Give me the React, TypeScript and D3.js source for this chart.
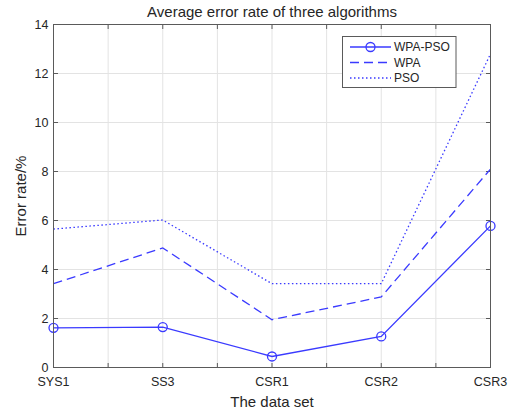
import React from "react";
import * as d3 from "d3";

const categories = ["SYS1", "SS3", "CSR1", "CSR2", "CSR3"];
const wpaPso = [1.62, 1.65, 0.45, 1.27, 5.78];
const wpa = [3.42, 4.88, 1.95, 2.88, 8.1];
const pso = [5.65, 6.02, 3.42, 3.42, 12.8];
const yTicks = [0, 2, 4, 6, 8, 10, 12, 14];
const xGrid = [0, 0.5, 1, 1.5, 2, 2.5, 3, 3.5, 4];
const seriesNames = ["WPA-PSO", "WPA", "PSO"];

const W = 515, H = 413;
const L = 53.5, R = 490.5, T = 24.5, B = 367.5;
const BLUE = "#3a3aff";
const AX = "#5a5a5a";
const TXT = "#262626";
const FONT = "'Liberation Sans', Arial, Helvetica, sans-serif";

export default function App() {
  const x = d3.scaleLinear().domain([0, categories.length - 1]).range([L, R]);
  const y = d3.scaleLinear().domain([0, 14]).range([B, T]);
  const line = d3.line<number>().x((_, i) => x(i)).y((d) => y(d));
  const dashes = [null, "9,5", "1.5,2.5"];
  const series = [wpaPso, wpa, pso];

  const lgX = 342.5, lgY = 36.5, lgW = 113.5, lgH = 51;
  const rowY = [47, 62.5, 78];

  return (
    <svg width={W} height={H} style={{ position: "absolute", left: 0, top: 0, background: "#fff" }} fontFamily={FONT}>
      <rect x={0} y={0} width={W} height={H} fill="#fff" />
      {/* grid */}
      {xGrid.map((g) => (
        <line key={"gx" + g} x1={x(g)} x2={x(g)} y1={T} y2={B} stroke="#e3e3e3" strokeWidth={1} />
      ))}
      {yTicks.map((t) => (
        <line key={"gy" + t} x1={L} x2={R} y1={y(t)} y2={y(t)} stroke="#e3e3e3" strokeWidth={1} />
      ))}
      {/* ticks */}
      {xGrid.map((g) => (
        <g key={"tx" + g}>
          <line x1={x(g)} x2={x(g)} y1={B} y2={B - 4.5} stroke={AX} />
          <line x1={x(g)} x2={x(g)} y1={T} y2={T + 4.5} stroke={AX} />
        </g>
      ))}
      {yTicks.map((t) => (
        <g key={"ty" + t}>
          <line x1={L} x2={L + 4.5} y1={y(t)} y2={y(t)} stroke={AX} />
          <line x1={R} x2={R - 4.5} y1={y(t)} y2={y(t)} stroke={AX} />
        </g>
      ))}
      {/* series */}
      {series.map((s, k) => (
        <path key={"s" + k} d={line(s) || ""} fill="none" stroke={BLUE} strokeWidth={1.3}
          strokeDasharray={dashes[k] || undefined} />
      ))}
      {wpaPso.map((v, i) => (
        <circle key={"m" + i} cx={x(i)} cy={y(v)} r={4.5} fill="none" stroke={BLUE} strokeWidth={1.3} />
      ))}
      {/* box */}
      <rect x={L} y={T} width={R - L} height={B - T} fill="none" stroke={AX} strokeWidth={1} />
      {/* tick labels */}
      {yTicks.map((t) => (
        <text key={"yl" + t} x={L - 5} y={y(t)} dy="0.35em" textAnchor="end" fontSize={12.5} fill={TXT}>{t}</text>
      ))}
      {categories.map((c, i) => (
        <text key={"xl" + c} x={x(i)} y={B + 14.5} dy="0.35em" textAnchor="middle" fontSize={12.5} fill={TXT}>{c}</text>
      ))}
      {/* labels */}
      <text x={(L + R) / 2} y={B + 34} dy="0.35em" textAnchor="middle" fontSize={15} fill={TXT}>The data set</text>
      <text transform={`translate(21,${(T + B) / 2}) rotate(-90)`} dy="0.35em" textAnchor="middle" fontSize={15} fill={TXT}>Error rate/%</text>
      <text x={(L + R) / 2} y={12} dy="0.35em" textAnchor="middle" fontSize={15} fill={TXT}>Average error rate of three algorithms</text>
      {/* legend */}
      <rect x={lgX} y={lgY} width={lgW} height={lgH} fill="#fff" stroke={AX} strokeWidth={1} />
      {seriesNames.map((n, k) => (
        <g key={"lg" + n}>
          <line x1={350} x2={391} y1={rowY[k]} y2={rowY[k]} stroke={BLUE} strokeWidth={1.3}
            strokeDasharray={dashes[k] || undefined} />
          {k === 0 && <circle cx={370.5} cy={rowY[k]} r={4.5} fill="none" stroke={BLUE} strokeWidth={1.3} />}
          <text x={394} y={rowY[k]} dy="0.35em" fontSize={12} fill={TXT}>{n}</text>
        </g>
      ))}
    </svg>
  );
}
